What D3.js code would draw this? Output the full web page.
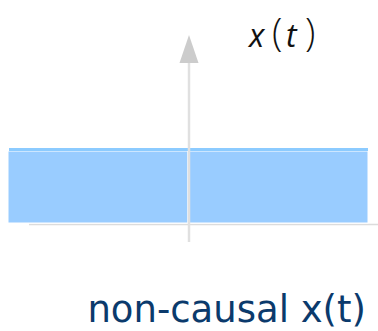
<!DOCTYPE html>
<html>
<head>
<meta charset="utf-8">
<script src="https://cdn.jsdelivr.net/npm/d3@7"></script>
<style>
  html, body { margin: 0; padding: 0; background: #fff; }
  svg { display: block; }
</style>
</head>
<body>
<div id="chart"></div>
<script>
// signal pieces: start, end and level of x(t)
const segStart = [-1, 0];
const segEnd = [0, 1];
const segLevel = [1, 1];
const caption = "non-causal x(t)";
// axis label glyphs: text, left x, italic?
const labGlyphs = ["x", "(", "t", ")"];
const labX = [249, 272, 286, 305];
const labItalic = [true, false, true, false];

const svg = d3.select("#chart").append("svg").attr("width", 378).attr("height", 331);

const x = d3.scaleLinear().domain([-1, 1]).range([8, 368]);
const y = d3.scaleLinear().domain([0, 1]).range([224, 148]);

// horizontal axis
svg.append("line")
    .attr("x1", 29).attr("x2", 378)
    .attr("y1", y(0) + 0.5).attr("y2", y(0) + 0.5)
    .attr("stroke", "#dcdcdc").attr("stroke-width", 1.5);

const data = segStart.map((s, i) => ({ s: s, e: segEnd[i], v: segLevel[i] }));

svg.selectAll(".seg")
    .data(data)
    .enter().append("rect")
    .attr("class", "seg")
    .attr("x", d => x(d.s))
    .attr("y", d => y(d.v) + 3)
    .attr("width", d => x(d.e) - x(d.s))
    .attr("height", d => y(0) - y(d.v) - 4)
    .attr("fill", "#99ccff")
    .attr("stroke", "#fff")
    .attr("stroke-width", 1);

// top edge of signal
svg.append("line")
    .attr("x1", x(-1) + 1).attr("x2", x(1))
    .attr("y1", y(1) + 1.5).attr("y2", y(1) + 1.5)
    .attr("stroke", "#8ccbff").attr("stroke-width", 3);

// vertical axis with arrow
svg.append("line")
    .attr("x1", x(0) + 1).attr("x2", x(0) + 1)
    .attr("y1", 62).attr("y2", 242)
    .attr("stroke", "#e0e0e0").attr("stroke-width", 2.5);

svg.append("path")
    .attr("d", `M${x(0) + 1},35 L${x(0) + 10.5},63 L${x(0) - 8.5},63 Z`)
    .attr("fill", "#cccccc");

// axis label x(t), math style
svg.selectAll(".lab")
    .data(labGlyphs)
    .enter().append("text")
    .attr("class", "lab")
    .attr("x", (d, i) => labX[i])
    .attr("y", (d, i) => labItalic[i] ? 47 : 46)
    .attr("font-family", "'Open Sans', sans-serif")
    .attr("font-style", (d, i) => labItalic[i] ? "italic" : "normal")
    .attr("font-weight", (d, i) => labItalic[i] ? 400 : 300)
    .attr("font-size", (d, i) => labItalic[i] ? 32 : 38)
    .attr("fill", "#111")
    .text(d => d);

svg.append("text")
    .attr("x", 366).attr("y", 322)
    .attr("text-anchor", "end")
    .attr("font-family", "'DejaVu Sans', sans-serif")
    .attr("font-size", 37)
    .attr("fill", "#0b3a6c")
    .text(caption);
</script>
</body>
</html>
